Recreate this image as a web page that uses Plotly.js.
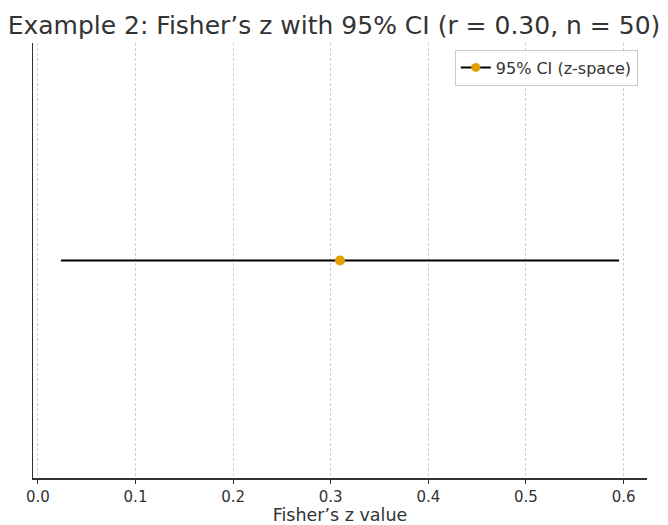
<!DOCTYPE html>
<html>
<head>
<meta charset="utf-8">
<script src="https://cdn.plot.ly/plotly-3.0.1.min.js"></script>
<style>html,body{margin:0;padding:0;background:#fff;}#chart{width:668px;height:525px;}</style>
</head>
<body>
<div id="chart"></div>
<script>
const estimate = [0.3095];
const ciLower = [0.0236];
const ciUpper = [0.5954];
const yPos = [0];
const tickVals = [0.0, 0.1, 0.2, 0.3, 0.4, 0.5, 0.6];
const tickText = ["0.0", "0.1", "0.2", "0.3", "0.4", "0.5", "0.6"];
const seriesName = "95% CI (z-space)";

const font = "DejaVu Sans, sans-serif";
const orange = "#E69F00";

const traces = [
  {
    x: estimate,
    y: yPos,
    mode: "markers",
    type: "scatter",
    showlegend: false,
    marker: {color: orange, size: 10},
    error_x: {
      type: "data",
      symmetric: false,
      array: estimate.map((e, i) => ciUpper[i] - e),
      arrayminus: estimate.map((e, i) => e - ciLower[i]),
      color: "#000",
      thickness: 2,
      width: 0
    },
    hoverinfo: "x"
  },
  {
    x: [null],
    y: [null],
    mode: "lines+markers",
    type: "scatter",
    name: seriesName,
    line: {color: "#000", width: 2},
    marker: {color: orange, size: 9}
  }
];

const layout = {
  width: 668,
  height: 525,
  paper_bgcolor: "#fff",
  plot_bgcolor: "#fff",
  margin: {l: 33, r: 21, t: 43, b: 47},
  title: {
    text: "Example 2: Fisher’s z with 95% CI (r = 0.30, n = 50)",
    font: {family: font, size: 25, color: "#333"},
    x: 0.5, xanchor: "center", y: 0.952, yanchor: "middle"
  },
  xaxis: {
    range: [-0.005, 0.624],
    tickvals: tickVals,
    ticktext: tickText,
    ticks: "outside",
    ticklen: 4,
    tickcolor: "#333",
    tickfont: {family: font, size: 15, color: "#333"},
    showgrid: true,
    gridcolor: "#d0d0d0",
    griddash: "3px,2px",
    gridwidth: 1,
    showline: true,
    linecolor: "#333",
    linewidth: 1.5,
    zeroline: false,
    title: {text: "Fisher’s z value", font: {family: font, size: 17.5, color: "#333"}, standoff: 8}
  },
  yaxis: {
    range: [-1, 1],
    showticklabels: false,
    ticks: "",
    showgrid: false,
    zeroline: false,
    showline: true,
    linecolor: "#333",
    linewidth: 1.5
  },
  legend: {
    x: 0.985, xanchor: "right",
    y: 0.985, yanchor: "top",
    bgcolor: "rgba(255,255,255,0.8)",
    bordercolor: "#ccc",
    borderwidth: 1,
    font: {family: font, size: 16, color: "#333"}
  },
  showlegend: true
};

Plotly.newPlot("chart", traces, layout, {displayModeBar: false, staticPlot: true});
</script>
</body>
</html>
